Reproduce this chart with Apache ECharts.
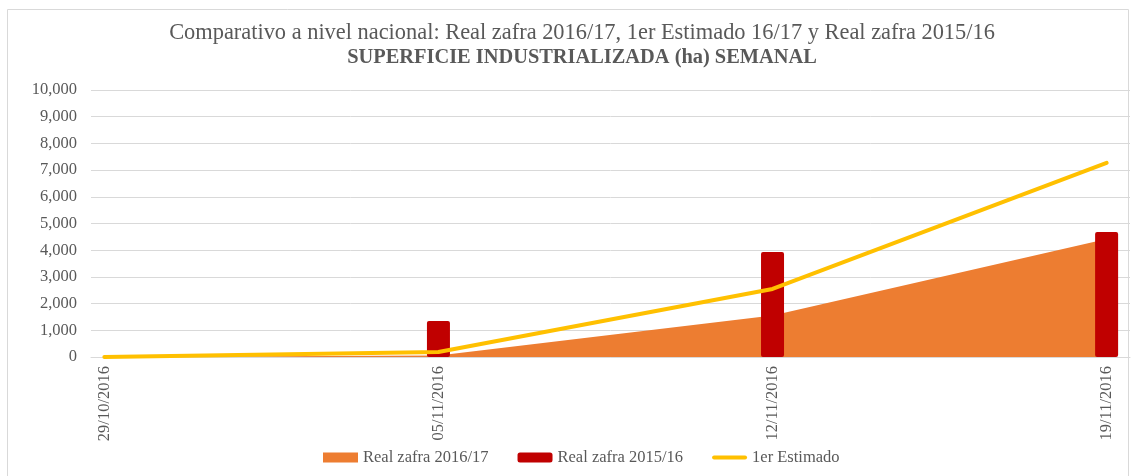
<!DOCTYPE html>
<html>
<head>
<meta charset="utf-8">
<script src="https://cdn.jsdelivr.net/npm/echarts@6/dist/echarts.min.js"></script>
<style>
  html, body { margin: 0; padding: 0; background: #fff; }
  #chart { width: 1135px; height: 476px; }
</style>
</head>
<body>
<div id="chart"></div>
<script>
// weekly dates
const categories = ['29/10/2016', '05/11/2016', '12/11/2016', '19/11/2016']
// hectares per week
const real1617 = [0, 60, 1550, 4420]
const real1516 = [0, 1350, 3930, 4680]
const estimado = [0, 190, 2550, 7270]

const yTicks = [0, 1000, 2000, 3000, 4000, 5000, 6000, 7000, 8000, 9000, 10000]

const catIdx = categories.map((c, i) => i)
const toPairs = (vals) => vals.map((v, i) => [i, v])
const serif = '"Liberation Serif", "Times New Roman", serif'
const grey = '#595959'

let myChart = echarts.init(document.getElementById('chart'))

let option = {
  animation: false,
  textStyle: { fontFamily: serif },
  graphic: [
    {
      type: 'rect',
      shape: { x: 7.5, y: 9.5, width: 1121, height: 470 },
      style: { fill: 'none', stroke: '#d9d9d9', lineWidth: 1 },
      silent: true,
    },
  ],
  title: {
    text: 'Comparativo a nivel nacional: Real zafra 2016/17, 1er Estimado 16/17 y Real zafra 2015/16',
    subtext: 'SUPERFICIE INDUSTRIALIZADA (ha) SEMANAL',
    left: 577,
    textAlign: 'center',
    top: 17,
    itemGap: 4,
    textStyle: { fontFamily: serif, fontSize: 22.4, fontWeight: 'normal', color: grey },
    subtextStyle: { fontFamily: serif, fontSize: 20.4, fontWeight: 'bold', color: grey },
  },
  legend: {
    bottom: 5,
    left: 318,
    itemWidth: 35,
    itemHeight: 10,
    itemGap: 29,
    textStyle: { fontFamily: serif, fontSize: 16.5, color: grey },
    data: [
      { name: 'Real zafra 2016/17', icon: 'rect' },
      { name: 'Real zafra 2015/16', icon: 'roundRect' },
      {
        name: '1er Estimado',
        icon: 'path://M2,0 L33,0 A2,2 0 0 1 33,4 L2,4 A2,2 0 0 1 2,0 Z',
        itemStyle: { color: '#FFC000' },
      },
    ],
  },
  grid: { left: 91, right: 5, top: 90, bottom: 119 },
  xAxis: {
    type: 'value',
    min: -0.04,
    max: 3.07,
    splitLine: { show: false },
    axisTick: { show: false },
    axisLine: { show: true, lineStyle: { color: '#d9d9d9' } },
    axisLabel: {
      customValues: catIdx,
      rotate: 90,
      margin: 9,
      fontFamily: serif,
      fontSize: 16.5,
      color: grey,
      formatter: (v) => categories[v] || '',
    },
  },
  yAxis: {
    type: 'value',
    min: yTicks[0],
    max: yTicks[yTicks.length - 1],
    interval: 1000,
    axisLine: { show: false },
    axisTick: { show: false },
    splitLine: { lineStyle: { color: '#d9d9d9' } },
    axisLabel: {
      margin: 14,
      fontFamily: serif,
      fontSize: 16.5,
      color: grey,
      formatter: (v) => v.toLocaleString('en-US'),
    },
  },
  series: [
    {
      name: 'Real zafra 2016/17',
      type: 'line',
      data: toPairs(real1617),
      symbol: 'none',
      lineStyle: { width: 0 },
      itemStyle: { color: '#ED7D31' },
      areaStyle: { color: '#ED7D31', opacity: 1 },
      z: 1,
    },
    {
      name: 'Real zafra 2015/16',
      type: 'bar',
      data: toPairs(real1516),
      barWidth: 23,
      itemStyle: { color: '#C00000', borderRadius: 2 },
      z: 2,
    },
    {
      name: '1er Estimado',
      type: 'line',
      data: toPairs(estimado),
      symbol: 'none',
      lineStyle: { width: 4, color: '#FFC000', cap: 'round' },
      itemStyle: { color: '#FFC000' },
      z: 3,
    },
  ],
}

myChart.setOption(option)
</script>
</body>
</html>
